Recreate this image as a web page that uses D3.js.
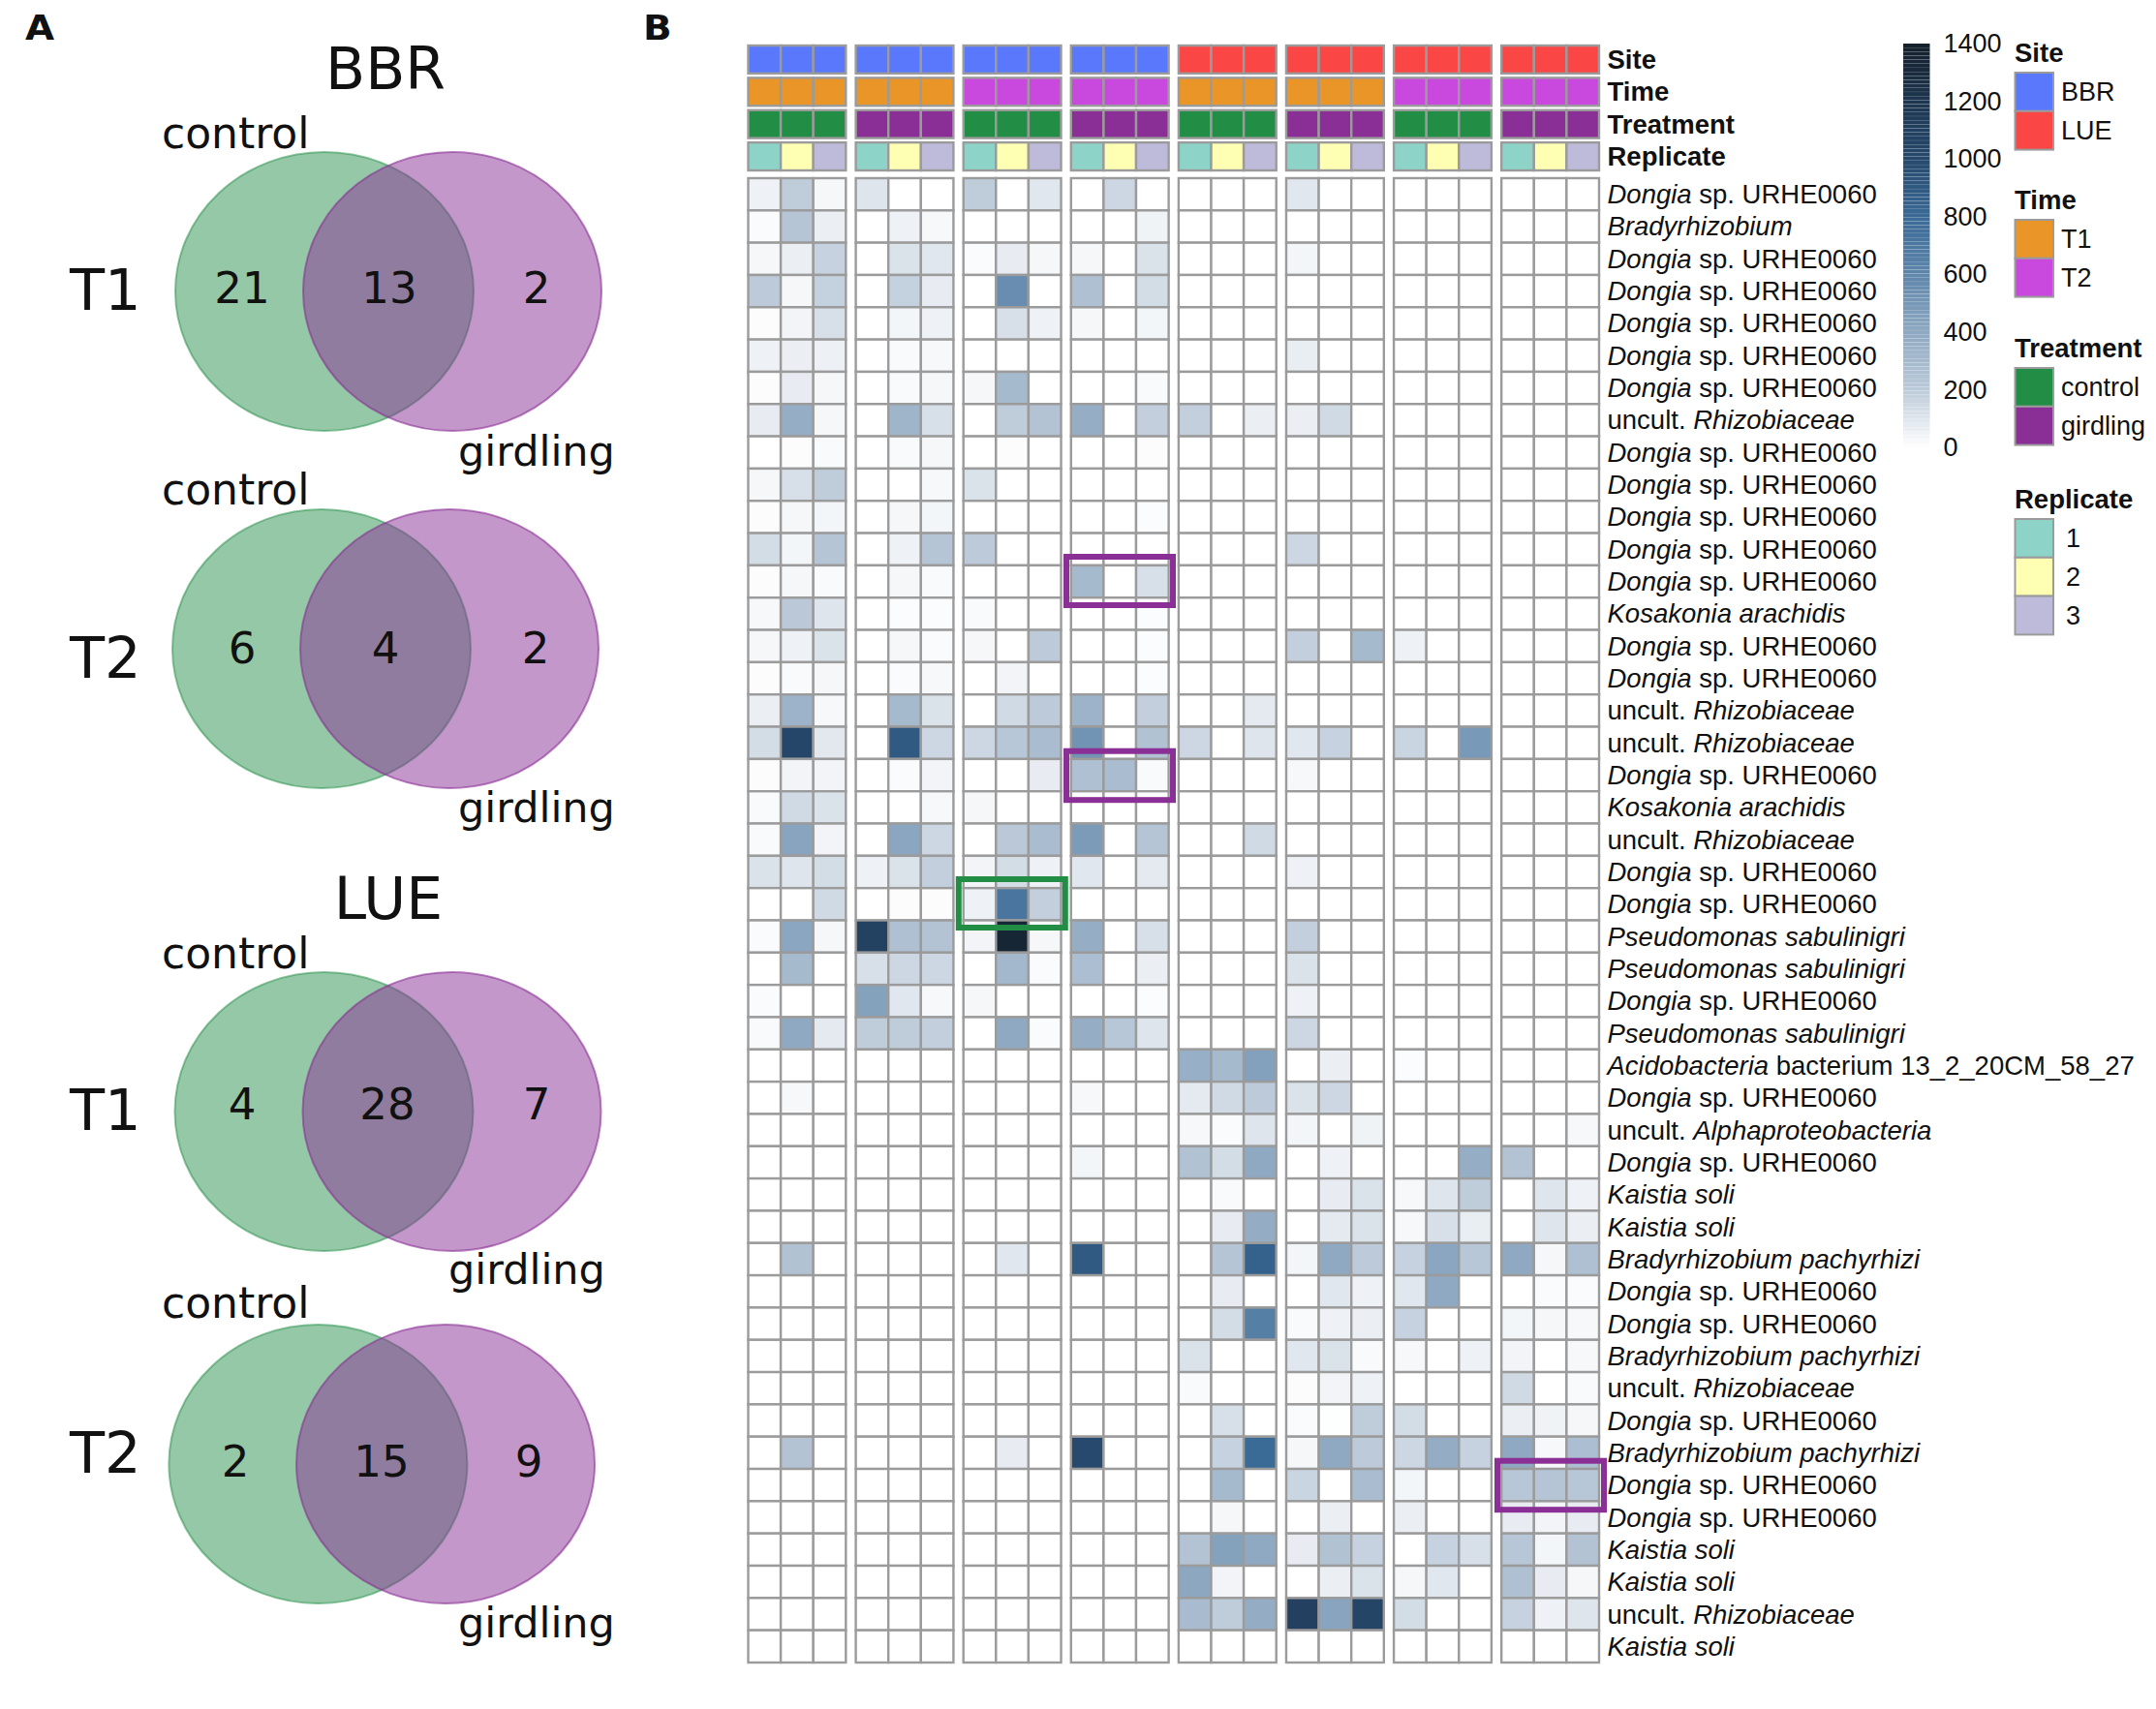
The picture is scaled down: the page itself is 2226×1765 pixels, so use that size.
<!DOCTYPE html>
<html><head><meta charset="utf-8">
<script src="https://cdn.jsdelivr.net/npm/d3@7"></script>
<style>
html,body{margin:0;padding:0;background:#fff}
svg{display:block}
text{font-family:"Liberation Sans",Arial,sans-serif;fill:#111}
.v{font-family:"DejaVu Sans",sans-serif}
</style></head><body>
<svg id="c" width="2226" height="1765"></svg>
<script>
// ---------- data ----------
const siteByGroup=["BBR","BBR","BBR","BBR","LUE","LUE","LUE","LUE"];
const timeByGroup=["T1","T1","T2","T2","T1","T1","T2","T2"];
const treatmentByGroup=["control","girdling","control","girdling","control","girdling","control","girdling"];
const replicates=[1,2,3];
const rowLabels=["D","B","D","D","D","D","D","R","D","D","D","D","D","K","D","D","R","R","D","K","R","D","D","P","P","D","P","A","D","L","D","S","S","Y","D","D","Y","R","D","Y","D","D","S","S","R","S"];
const labelParts={
 D:[["Dongia",1],[" sp. URHE0060",0]],
 B:[["Bradyrhizobium",1]],
 R:[["uncult. ",0],["Rhizobiaceae",1]],
 K:[["Kosakonia arachidis",1]],
 P:[["Pseudomonas sabulinigri",1]],
 A:[["Acidobacteria",1],[" bacterium 13_2_20CM_58_27",0]],
 L:[["uncult. ",0],["Alphaproteobacteria",1]],
 S:[["Kaistia soli",1]],
 Y:[["Bradyrhizobium pachyrhizi",1]]
};
const heat=[
[50,190,30, 100,0,0, 190,0,90, 0,150,0, 0,0,0, 90,0,0, 0,0,0, 0,0,0],
[15,230,60, 0,50,25, 0,0,0, 0,0,45, 0,0,0, 0,0,0, 0,0,0, 0,0,0],
[30,60,170, 0,110,90, 15,70,30, 30,0,110, 0,0,0, 35,0,0, 0,0,0, 0,0,0],
[200,30,175, 0,175,70, 0,560,0, 260,0,130, 0,0,0, 0,0,0, 0,0,0, 0,0,0],
[10,40,120, 0,35,50, 0,120,50, 30,0,35, 0,0,0, 0,0,0, 0,0,0, 0,0,0],
[50,60,55, 0,20,25, 0,0,0, 0,0,0, 0,0,0, 65,0,0, 0,0,0, 0,0,0],
[10,70,30, 0,20,30, 30,300,0, 0,0,20, 0,0,0, 0,0,0, 0,0,0, 0,0,0],
[70,370,30, 0,330,120, 0,190,240, 370,0,180, 180,0,60, 60,140,0, 0,0,0, 0,0,0],
[0,10,20, 0,20,30, 0,10,0, 0,0,10, 0,0,0, 0,0,0, 0,0,0, 0,0,0],
[30,120,190, 0,0,25, 110,0,0, 0,0,0, 0,0,0, 0,0,0, 0,0,0, 0,0,0],
[10,30,35, 0,30,35, 0,0,0, 0,0,12, 0,0,0, 0,0,0, 0,0,0, 0,0,0],
[130,35,230, 0,50,230, 200,0,0, 0,0,0, 0,0,0, 150,0,0, 0,0,0, 0,0,0],
[10,30,20, 0,30,20, 0,0,0, 300,0,120, 0,0,0, 0,0,0, 0,0,0, 0,0,0],
[25,210,100, 0,12,12, 20,0,0, 0,0,12, 0,0,0, 0,0,0, 0,0,0, 0,0,0],
[30,50,110, 0,30,15, 30,0,200, 0,0,12, 0,0,0, 180,0,300, 50,0,0, 0,0,0],
[10,20,30, 0,15,25, 0,40,0, 0,0,12, 0,0,0, 0,0,0, 0,0,0, 0,0,0],
[60,340,25, 0,300,110, 0,140,200, 340,0,180, 0,0,80, 0,0,0, 0,0,0, 0,0,0],
[130,1030,85, 0,900,150, 150,220,280, 520,0,250, 150,0,100, 90,170,0, 160,0,490, 0,0,0],
[10,40,40, 0,15,40, 0,0,70, 260,280,20, 0,0,0, 25,0,0, 0,0,0, 0,0,0],
[20,140,110, 0,0,25, 30,0,0, 0,0,0, 0,0,0, 0,0,0, 0,0,0, 0,0,0],
[20,430,40, 0,420,150, 0,210,280, 480,0,230, 0,0,140, 0,0,0, 0,0,0, 0,0,0],
[110,100,130, 50,110,180, 40,130,50, 90,0,80, 0,0,0, 50,0,0, 0,0,0, 0,0,0],
[0,0,140, 0,10,10, 50,720,180, 0,0,0, 0,0,0, 0,0,0, 0,0,0, 0,0,0],
[15,420,30, 1080,260,240, 40,1350,30, 370,0,120, 0,0,0, 180,0,0, 0,0,0, 0,0,0],
[0,300,0, 120,150,150, 0,310,15, 270,0,60, 0,0,0, 110,0,0, 0,0,0, 0,0,0],
[15,0,0, 440,90,25, 30,0,0, 0,0,12, 0,0,0, 50,0,0, 0,0,0, 0,0,0],
[20,400,80, 190,190,180, 0,400,15, 370,220,100, 0,0,0, 150,0,0, 0,0,0, 0,0,0],
[0,0,0, 0,0,0, 0,0,0, 0,0,0, 360,300,450, 0,60,0, 12,0,0, 0,0,0],
[0,25,0, 0,0,0, 0,0,0, 25,0,0, 80,140,200, 110,150,0, 0,0,0, 0,0,0],
[0,0,0, 0,0,0, 0,0,0, 0,0,0, 25,15,100, 35,0,45, 0,0,0, 0,0,25],
[0,0,0, 0,0,0, 0,0,0, 35,0,0, 250,130,400, 0,50,0, 0,0,370, 240,0,0],
[0,0,0, 0,0,0, 0,0,0, 0,0,0, 0,20,0, 0,70,110, 25,100,190, 0,100,50],
[0,0,0, 0,0,0, 0,0,0, 0,0,0, 0,70,380, 0,80,110, 25,120,65, 0,100,60],
[0,250,0, 0,0,0, 0,90,0, 900,0,0, 0,230,850, 35,400,200, 170,420,220, 400,30,260],
[0,0,0, 0,0,0, 0,0,0, 0,0,0, 0,70,0, 0,90,50, 90,400,0, 0,15,15],
[0,0,0, 0,0,0, 0,0,0, 0,0,0, 0,130,650, 20,50,60, 170,0,0, 35,30,25],
[0,0,0, 0,0,0, 0,0,0, 0,0,0, 110,0,0, 90,110,20, 25,0,50, 40,0,25],
[0,0,0, 0,0,0, 0,0,0, 0,0,0, 20,0,0, 10,40,50, 0,0,0, 140,0,20],
[0,0,0, 0,0,0, 0,0,0, 0,0,0, 0,120,0, 15,5,190, 130,0,0, 60,45,30],
[0,240,0, 0,0,0, 0,70,0, 1000,0,0, 0,170,800, 30,400,200, 150,380,170, 400,25,270],
[0,0,0, 0,0,0, 0,0,0, 0,0,0, 0,300,0, 160,0,280, 35,0,0, 220,230,220],
[0,0,0, 0,0,0, 0,0,0, 0,0,0, 0,30,0, 0,60,0, 60,0,0, 70,40,70],
[0,0,0, 0,0,0, 0,0,0, 0,0,0, 240,440,400, 70,250,170, 0,170,120, 220,35,240],
[0,0,0, 0,0,0, 0,0,0, 0,0,0, 410,40,0, 0,60,110, 30,90,0, 260,70,30],
[0,0,0, 0,0,0, 0,0,0, 0,0,0, 290,190,380, 1090,430,1040, 130,0,0, 170,50,100],
[0,0,0, 0,0,0, 0,0,0, 0,0,0, 0,0,0, 0,0,0, 0,0,0, 0,0,0]
];
const colorbarTicks=[0,200,400,600,800,1000,1200,1400];
const vennTitles=["BBR","LUE"];
const vennTimes=["T1","T2","T1","T2"];
const vennCounts=[[21,13,2],[6,4,2],[4,28,7],[2,15,9]];
// ---------- styles ----------
const palette={BBR:"#5a78fb",LUE:"#fb4646",T1:"#e99527",T2:"#c949df",control:"#218d45",girdling:"#8a2f96",1:"#8dd3c7",2:"#ffffb3",3:"#bebada"};
const color=d3.scaleLinear()
 .domain([0,200,400,600,800,1000,1200,1400])
 .range(["#ffffff","#bccad9","#8fa9c2","#5f86ab","#3a6a96","#27496d","#1d3650","#15202c"])
 .interpolate(d3.interpolateRgb).clamp(true);
const grid="#9b9b9b";
const svg=d3.select("#c");
svg.append("rect").attr("width",2226).attr("height",1765).attr("fill","#fff");
// panel letters
[["A",26],["B",664]].forEach(([t,x])=>svg.append("text").attr("transform",`translate(${x},41) scale(1.08,1)`)
 .attr("font-size",36).attr("font-weight",700).style("font-family","DejaVu Sans").text(t));
// ---------- Venn ----------
const vennLayout=[
 {gx:335,px:467,cy:301,ly:153,gy:481,gx0:473,tb:320,nb:313,nx:[250,402,554]},
 {gx:332,px:464,cy:670,ly:521,gy:849,gx0:473,tb:700,nb:685,nx:[250,398,553]},
 {gx:334.5,px:466.5,cy:1148,ly:1000,gy:1326,gx0:463,tb:1167,nb:1156,nx:[250,400,554]},
 {gx:328.4,px:460,cy:1512,ly:1361,gy:1691,gx0:473,tb:1520.5,nb:1525,nx:[243,394,546]}
];
const vg=svg.append("g");
vennCounts.forEach((cnt,i)=>{
 const L=vennLayout[i];
 vg.append("ellipse").attr("cx",L.gx).attr("cy",L.cy).attr("rx",154).attr("ry",144)
  .attr("fill","#218d45").attr("fill-opacity",.48).attr("stroke","#218d45").attr("stroke-opacity",.5).attr("stroke-width",2);
 vg.append("ellipse").attr("cx",L.px).attr("cy",L.cy).attr("rx",154).attr("ry",144)
  .attr("fill","#8a2f96").attr("fill-opacity",.5).attr("stroke","#8a2f96").attr("stroke-opacity",.6).attr("stroke-width",2);
 cnt.forEach((c,j)=>vg.append("text").attr("class","v").attr("x",L.nx[j]).attr("y",L.nb).attr("text-anchor","middle").attr("font-size",45).text(c));
 vg.append("text").attr("class","v").attr("x",72).attr("y",L.tb).attr("font-size",59).text(vennTimes[i]);
 vg.append("text").attr("class","v").attr("x",167).attr("y",L.ly).attr("font-size",44).text("control");
 vg.append("text").attr("class","v").attr("x",L.gx0).attr("y",L.gy).attr("font-size",43).text("girdling");
});
vg.append("text").attr("class","v").attr("x",398).attr("y",92).attr("text-anchor","middle").attr("font-size",60).text(vennTitles[0]);
vg.append("text").attr("class","v").attr("x",401).attr("y",949).attr("text-anchor","middle").attr("font-size",60).text(vennTitles[1]);
// ---------- heatmap ----------
const gx=d3.scaleBand().domain(d3.range(8)).range([772.5,1651]).paddingInner(.0925);
const cx=d3.scaleBand().domain(replicates).range([0,gx.bandwidth()]);
const ry=d3.scaleBand().domain(d3.range(rowLabels.length)).range([184,1717]);
const annY=d3.scaleBand().domain(["Site","Time","Treatment","Replicate"]).range([47,176]).paddingInner(.135);
const annVal={Site:g=>siteByGroup[g],Time:g=>timeByGroup[g],Treatment:g=>treatmentByGroup[g],Replicate:(g,r)=>r};
d3.range(8).forEach(g=>{
 const G=svg.append("g").attr("transform",`translate(${gx(g)},0)`);
 annY.domain().forEach(a=>{
  G.selectAll(null).data(replicates).join("rect")
   .attr("x",r=>cx(r)).attr("y",annY(a)).attr("width",cx.bandwidth()).attr("height",annY.bandwidth())
   .attr("fill",r=>palette[annVal[a](g,r)]).attr("stroke",grid).attr("stroke-width",2.4);
 });
 rowLabels.forEach((_,i)=>{
  G.selectAll(null).data(replicates).join("rect")
   .attr("x",r=>cx(r)).attr("y",ry(i)).attr("width",cx.bandwidth()).attr("height",ry.bandwidth())
   .attr("fill",r=>color(heat[i][g*3+r-1])).attr("stroke",grid).attr("stroke-width",2.4);
 });
});
// annotation names
annY.domain().forEach(a=>svg.append("text").attr("x",1659.5).attr("y",annY(a)+annY.bandwidth()/2+9.5)
 .attr("font-size",27.5).attr("font-weight",700).text(a));
// row labels
rowLabels.forEach((k,i)=>{
 const t=svg.append("text").attr("x",1659.5).attr("y",ry(i)+ry.bandwidth()/2+9.5).attr("font-size",27.5);
 labelParts[k].forEach(([s,it])=>t.append("tspan").attr("font-style",it?"italic":"normal").text(s));
});
// highlight boxes
[[1101,575,110,50,"#8a2f96"],[1101,775.7,110,50.5,"#8a2f96"],[989.8,908,110,50,"#218d45"],[1546,1508.7,110,50.5,"#8a2f96"]].forEach(b=>
 svg.append("rect").attr("x",b[0]).attr("y",b[1]).attr("width",b[2]).attr("height",b[3]).attr("fill","none").attr("stroke",b[4]).attr("stroke-width",6));
// ---------- colour bar ----------
const cy=d3.scaleLinear().domain([0,1400]).range([462,45]);
const bands=d3.range(0,1400,14);
svg.selectAll(null).data(bands).join("rect").attr("x",1965).attr("width",27.5)
 .attr("y",d=>cy(d+14)).attr("height",d=>cy(d)-cy(d+14)-0.15)
 .attr("fill",d=>color(d+7));
const ax=d3.axisRight(cy).tickValues(colorbarTicks).tickSize(0).tickPadding(14).tickFormat(d3.format("d"));
const axG=svg.append("g").attr("transform","translate(1992.5,0)").call(ax);
axG.select(".domain").remove();
axG.selectAll("text").attr("font-size",27).style("font-family","Liberation Sans").attr("fill","#111");
// ---------- legends ----------
const legends=[
 {title:"Site",items:["BBR","LUE"],ty:64,y0:75},
 {title:"Time",items:["T1","T2"],ty:216,y0:227},
 {title:"Treatment",items:["control","girdling"],ty:369,y0:380},
 {title:"Replicate",items:[1,2,3],ty:525,y0:536}
];
legends.forEach(l=>{
 svg.append("text").attr("x",2080).attr("y",l.ty).attr("font-size",27.5).attr("font-weight",700).text(l.title);
 const y=d3.scaleBand().domain(l.items).range([l.y0,l.y0+l.items.length*39.8]);
 l.items.forEach(it=>{
  svg.append("rect").attr("x",2080.5).attr("y",y(it)).attr("width",39.5).attr("height",y.bandwidth())
   .attr("fill",palette[it]).attr("stroke",grid).attr("stroke-width",2);
  svg.append("text").attr("x",typeof it==="number"?2133:2128).attr("y",y(it)+y.bandwidth()/2+9.5).attr("font-size",27).text(it);
 });
});
</script></body></html>
